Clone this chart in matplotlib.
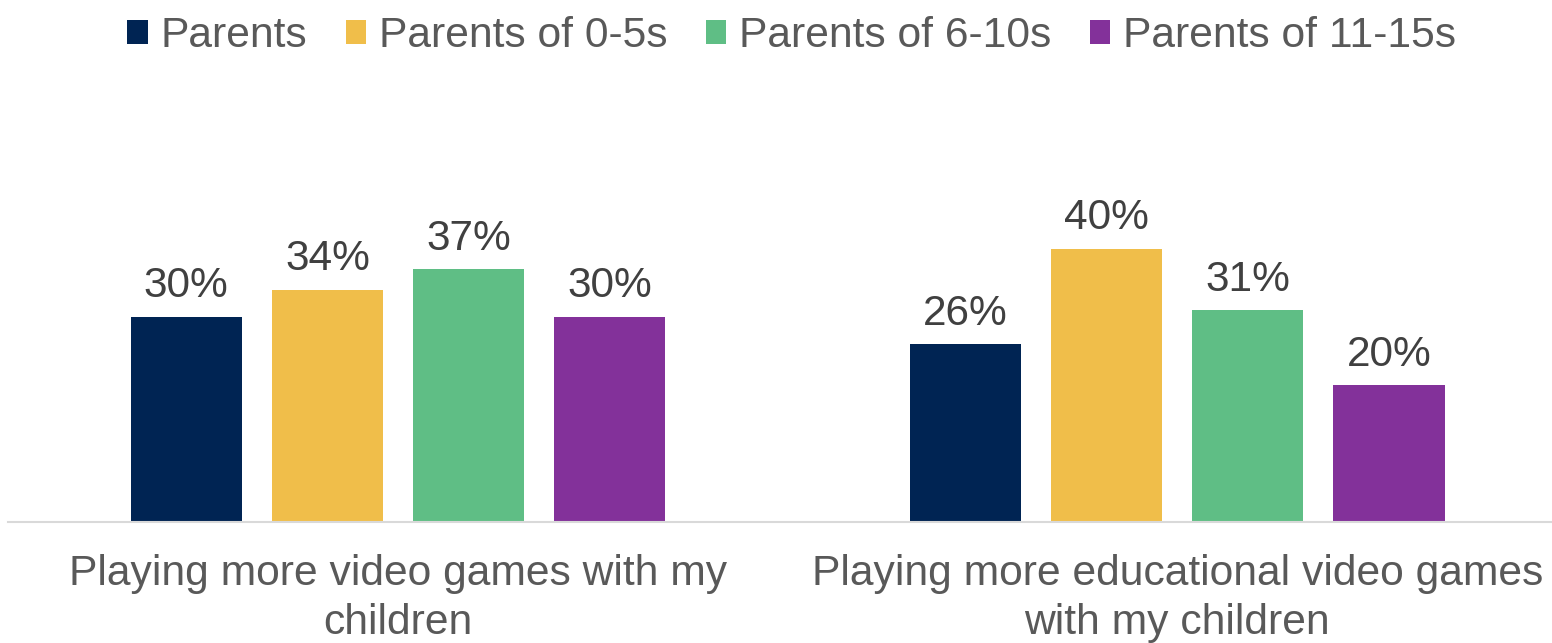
import matplotlib.pyplot as plt
from matplotlib.patches import Patch

categories = ['Playing more video games with my\nchildren',
              'Playing more educational video games\nwith my children']
series_names = ['Parents', 'Parents of 0-5s', 'Parents of 6-10s', 'Parents of 11-15s']
parents = [30, 26]
parents_0_5 = [34, 40]
parents_6_10 = [37, 31]
parents_11_15 = [30, 20]

colors = ['#002453', '#F0BE4A', '#5FBE85', '#83319A']

plt.rcParams['font.family'] = ['Liberation Sans', 'DejaVu Sans']

fig = plt.figure(figsize=(15.52, 6.43), dpi=100)
ax = fig.add_axes([8 / 1552, 121 / 643, 1 - 8 / 1552, 0.672])

all_series = [parents, parents_0_5, parents_6_10, parents_11_15]
offsets = [-0.2718, -0.0905, 0.0905, 0.2718]
width = 0.1425

for vals, off, col in zip(all_series, offsets, colors):
	xs = [i + off for i in range(len(categories))]
	bars = ax.bar(xs, vals, width=width, color=col)
	for b, v in zip(bars, vals):
		ax.annotate('%d%%' % v, (b.get_x() + b.get_width() / 2, v),
			xytext=(0, 14), textcoords='offset points',
			ha='center', va='baseline', fontsize=30.5, color='#404040')

ax.set_xlim(-0.5006, 1.481)
ax.set_ylim(0, 63.2)
ax.set_xticks(range(len(categories)))
ax.set_xticklabels(categories, fontsize=30.7, color='#595959', linespacing=1.3)
ax.tick_params(axis='x', length=0, pad=23)
ax.set_yticks([])
for s in ['top', 'right', 'left']:
	ax.spines[s].set_visible(False)
ax.spines['bottom'].set_color('#D9D9D9')
ax.spines['bottom'].set_linewidth(1.5)

handles = [Patch(facecolor=c, label=n) for c, n in zip(colors, series_names)]
fig.legend(handles=handles, loc='upper center', bbox_to_anchor=(0.51, 1.035),
	ncol=4, frameon=False, fontsize=30.7, labelcolor='#595959',
	handlelength=0.48, handleheight=0.48, handletextpad=0.3, columnspacing=0.9)

fig.savefig('out.png', dpi=100)
